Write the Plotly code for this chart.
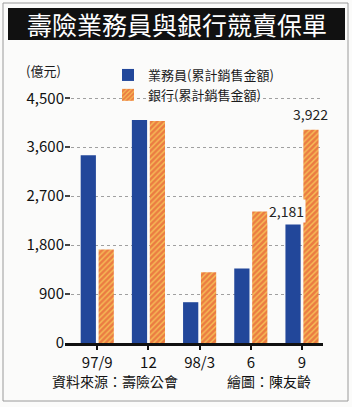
import plotly.graph_objects as go

categories = ["97/9", "12", "98/3", "6", "9"]
agent_sales = [3450, 4100, 750, 1370, 2181]
bank_sales = [1720, 4080, 1300, 2420, 3922]
tick_vals = [0, 900, 1800, 2700, 3600, 4500]
tick_text = ["0", "900", "1,800", "2,700", "3,600", "4,500"]

W, H = 352, 407
L, R, T, B = 65, 29, 95, 64
PW, PH = W - L - R, H - T - B

def px(x):
    return (x - L) / PW

def py(y):
    return (H - B - y) / PH

FONT = "Noto Sans CJK TC"
BLUE = "#22479a"

fig = go.Figure()
fig.add_bar(x=categories, y=agent_sales, name="業務員(累計銷售金額)",
            marker=dict(color=BLUE, line=dict(width=0)))
fig.add_bar(x=categories, y=bank_sales, name="銀行(累計銷售金額)",
            marker=dict(color="#f0a050", line=dict(width=0),
                        pattern=dict(shape="/", fgcolor="#e03a2c", bgcolor="#f6bf58",
                                     size=4, solidity=0.65)))

fig.update_layout(
    width=W, height=H, margin=dict(l=L, r=R, t=T, b=B),
    paper_bgcolor="#fbfbfa", plot_bgcolor="#fbfbfa",
    barmode="group", bargap=0.3, bargroupgap=0.15,
    font=dict(family=FONT, color="#1a1a1a"),
    showlegend=True,
    legend=dict(x=px(108), y=py(60), xanchor="left", yanchor="top",
                bgcolor="rgba(0,0,0,0)", font=dict(size=13, family=FONT, color="#1a1a1a"),
                tracegroupgap=0, itemwidth=30, traceorder="normal"),
)

fig.update_xaxes(type="category", range=[-0.63, 4.41], showline=True, linecolor="#111", linewidth=3,
                 ticks="outside", ticklen=4, tickcolor="#111", tickwidth=2,
                 tickfont=dict(size=15, family=FONT, color="#111"), showgrid=False)
fig.update_yaxes(range=[0, 4560], tickvals=tick_vals, ticktext=tick_text,
                 ticks="inside", ticklen=5, tickcolor="#444", tickwidth=1.5,
                 tickfont=dict(size=15, family=FONT, color="#111"),
                 showgrid=True, gridcolor="#a0a0a0", griddash="dot", gridwidth=1,
                 zeroline=False, showline=False)

# value labels on the last period
last = len(categories) - 1
fig.add_annotation(x=last, y=agent_sales[last], text=f"{agent_sales[last]:,}", showarrow=False,
                   xshift=-16, yshift=1, yanchor="bottom",
                   font=dict(size=14, family=FONT, color="#222"), bgcolor="#fbfbfa")
fig.add_annotation(x=last, y=bank_sales[last], text=f"{bank_sales[last]:,}", showarrow=False,
                   xshift=8, yshift=4, yanchor="bottom",
                   font=dict(size=14, family=FONT, color="#222"))

# title bar
fig.add_shape(type="rect", xref="paper", yref="paper", x0=px(8), x1=px(345),
              y0=py(40), y1=py(8), fillcolor="#111", line=dict(width=0), layer="above")
fig.add_annotation(xref="paper", yref="paper", x=px(176.5), y=py(24), text="壽險業務員與銀行競賣保單",
                   showarrow=False, xanchor="center", yanchor="middle",
                   font=dict(size=25, family=FONT, color="white"))
# unit
fig.add_annotation(xref="paper", yref="paper", x=px(24), y=py(70), text="(億元)",
                   showarrow=False, xanchor="left", yanchor="middle",
                   font=dict(size=13, family=FONT, color="#1a1a1a"))
# footer
fig.add_annotation(xref="paper", yref="paper", x=px(50), y=py(381), text="資料來源：壽險公會",
                   showarrow=False, xanchor="left", yanchor="middle",
                   font=dict(size=14, family=FONT, color="#111"))
fig.add_annotation(xref="paper", yref="paper", x=px(225), y=py(381), text="繪圖：陳友齡",
                   showarrow=False, xanchor="left", yanchor="middle",
                   font=dict(size=14, family=FONT, color="#111"))
# frame
fig.add_shape(type="rect", xref="paper", yref="paper", x0=px(3), x1=px(348),
              y0=py(401), y1=py(3), line=dict(color="#9a9a9a", width=1), layer="below")

fig.write_html("out.html")
